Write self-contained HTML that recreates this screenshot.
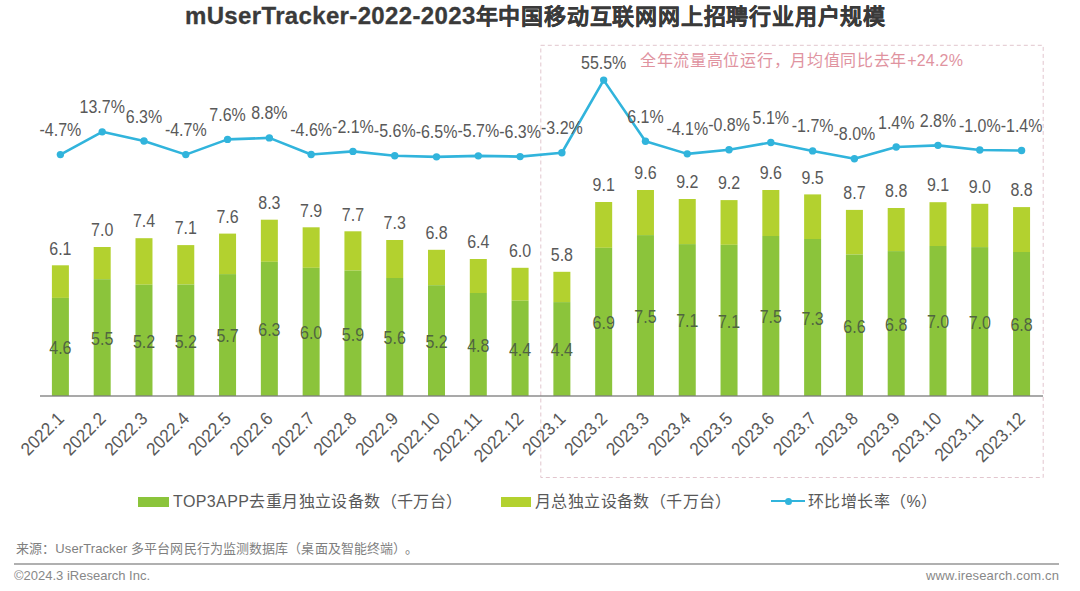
<!DOCTYPE html>
<html lang="zh-CN"><head><meta charset="utf-8"><style>
html,body{margin:0;padding:0;background:#fff;width:1080px;height:591px;overflow:hidden;}
body{position:relative;font-family:"Liberation Sans",sans-serif;}
svg{position:absolute;left:0;top:0;}
.lbl{font-size:16px;fill:#595959;text-anchor:middle;}
.ilbl{font-size:16px;fill:#506440;text-anchor:middle;}
.xl{font-size:17px;fill:#595959;text-anchor:end;}
.t{position:absolute;white-space:nowrap;}
</style></head><body>
<svg width="1080" height="591" viewBox="0 0 1080 591">
<rect x="540.8" y="45.3" width="502.4" height="432.2" fill="none" stroke="#e2c6ce" stroke-width="1" stroke-dasharray="4 3"/>
<rect x="51.90" y="265.30" width="17" height="32.60" fill="#b3d12f"/>
<rect x="51.90" y="297.90" width="17" height="97.60" fill="#8bc43b"/>
<rect x="93.69" y="247.00" width="17" height="32.20" fill="#b3d12f"/>
<rect x="93.69" y="279.20" width="17" height="116.30" fill="#8bc43b"/>
<rect x="135.48" y="238.20" width="17" height="46.50" fill="#b3d12f"/>
<rect x="135.48" y="284.70" width="17" height="110.80" fill="#8bc43b"/>
<rect x="177.27" y="245.10" width="17" height="39.40" fill="#b3d12f"/>
<rect x="177.27" y="284.50" width="17" height="111.00" fill="#8bc43b"/>
<rect x="219.06" y="233.60" width="17" height="40.50" fill="#b3d12f"/>
<rect x="219.06" y="274.10" width="17" height="121.40" fill="#8bc43b"/>
<rect x="260.85" y="219.70" width="17" height="42.10" fill="#b3d12f"/>
<rect x="260.85" y="261.80" width="17" height="133.70" fill="#8bc43b"/>
<rect x="302.64" y="227.30" width="17" height="40.50" fill="#b3d12f"/>
<rect x="302.64" y="267.80" width="17" height="127.70" fill="#8bc43b"/>
<rect x="344.43" y="231.30" width="17" height="39.30" fill="#b3d12f"/>
<rect x="344.43" y="270.60" width="17" height="124.90" fill="#8bc43b"/>
<rect x="386.22" y="240.00" width="17" height="38.00" fill="#b3d12f"/>
<rect x="386.22" y="278.00" width="17" height="117.50" fill="#8bc43b"/>
<rect x="428.01" y="249.80" width="17" height="35.40" fill="#b3d12f"/>
<rect x="428.01" y="285.20" width="17" height="110.30" fill="#8bc43b"/>
<rect x="469.80" y="259.00" width="17" height="34.00" fill="#b3d12f"/>
<rect x="469.80" y="293.00" width="17" height="102.50" fill="#8bc43b"/>
<rect x="511.59" y="267.80" width="17" height="32.90" fill="#b3d12f"/>
<rect x="511.59" y="300.70" width="17" height="94.80" fill="#8bc43b"/>
<rect x="553.38" y="271.80" width="17" height="30.30" fill="#b3d12f"/>
<rect x="553.38" y="302.10" width="17" height="93.40" fill="#8bc43b"/>
<rect x="595.17" y="202.00" width="17" height="45.80" fill="#b3d12f"/>
<rect x="595.17" y="247.80" width="17" height="147.70" fill="#8bc43b"/>
<rect x="636.96" y="190.00" width="17" height="45.10" fill="#b3d12f"/>
<rect x="636.96" y="235.10" width="17" height="160.40" fill="#8bc43b"/>
<rect x="678.75" y="199.00" width="17" height="45.10" fill="#b3d12f"/>
<rect x="678.75" y="244.10" width="17" height="151.40" fill="#8bc43b"/>
<rect x="720.54" y="200.10" width="17" height="44.70" fill="#b3d12f"/>
<rect x="720.54" y="244.80" width="17" height="150.70" fill="#8bc43b"/>
<rect x="762.33" y="190.00" width="17" height="46.00" fill="#b3d12f"/>
<rect x="762.33" y="236.00" width="17" height="159.50" fill="#8bc43b"/>
<rect x="804.12" y="194.40" width="17" height="44.60" fill="#b3d12f"/>
<rect x="804.12" y="239.00" width="17" height="156.50" fill="#8bc43b"/>
<rect x="845.91" y="209.90" width="17" height="44.60" fill="#b3d12f"/>
<rect x="845.91" y="254.50" width="17" height="141.00" fill="#8bc43b"/>
<rect x="887.70" y="208.00" width="17" height="43.10" fill="#b3d12f"/>
<rect x="887.70" y="251.10" width="17" height="144.40" fill="#8bc43b"/>
<rect x="929.49" y="202.20" width="17" height="43.80" fill="#b3d12f"/>
<rect x="929.49" y="246.00" width="17" height="149.50" fill="#8bc43b"/>
<rect x="971.28" y="203.80" width="17" height="43.30" fill="#b3d12f"/>
<rect x="971.28" y="247.10" width="17" height="148.40" fill="#8bc43b"/>
<rect x="1013.07" y="207.10" width="17" height="44.90" fill="#b3d12f"/>
<rect x="1013.07" y="252.00" width="17" height="143.50" fill="#8bc43b"/>
<line x1="40" y1="396.0" x2="1043" y2="396.0" stroke="#000" stroke-opacity="0.45" stroke-width="1.4"/>
<text transform="translate(60.40 254.50) scale(1 1.1)" class="lbl">6.1</text>
<text transform="translate(60.40 354.20) scale(1 1.1)" class="ilbl">4.6</text>
<text transform="translate(102.19 236.20) scale(1 1.1)" class="lbl">7.0</text>
<text transform="translate(102.19 344.85) scale(1 1.1)" class="ilbl">5.5</text>
<text transform="translate(143.98 227.40) scale(1 1.1)" class="lbl">7.4</text>
<text transform="translate(143.98 347.60) scale(1 1.1)" class="ilbl">5.2</text>
<text transform="translate(185.77 234.30) scale(1 1.1)" class="lbl">7.1</text>
<text transform="translate(185.77 347.50) scale(1 1.1)" class="ilbl">5.2</text>
<text transform="translate(227.56 222.80) scale(1 1.1)" class="lbl">7.6</text>
<text transform="translate(227.56 342.30) scale(1 1.1)" class="ilbl">5.7</text>
<text transform="translate(269.35 208.90) scale(1 1.1)" class="lbl">8.3</text>
<text transform="translate(269.35 336.15) scale(1 1.1)" class="ilbl">6.3</text>
<text transform="translate(311.14 216.50) scale(1 1.1)" class="lbl">7.9</text>
<text transform="translate(311.14 339.15) scale(1 1.1)" class="ilbl">6.0</text>
<text transform="translate(352.93 220.50) scale(1 1.1)" class="lbl">7.7</text>
<text transform="translate(352.93 340.55) scale(1 1.1)" class="ilbl">5.9</text>
<text transform="translate(394.72 229.20) scale(1 1.1)" class="lbl">7.3</text>
<text transform="translate(394.72 344.25) scale(1 1.1)" class="ilbl">5.6</text>
<text transform="translate(436.51 239.00) scale(1 1.1)" class="lbl">6.8</text>
<text transform="translate(436.51 347.85) scale(1 1.1)" class="ilbl">5.2</text>
<text transform="translate(478.30 248.20) scale(1 1.1)" class="lbl">6.4</text>
<text transform="translate(478.30 351.75) scale(1 1.1)" class="ilbl">4.8</text>
<text transform="translate(520.09 257.00) scale(1 1.1)" class="lbl">6.0</text>
<text transform="translate(520.09 355.60) scale(1 1.1)" class="ilbl">4.4</text>
<text transform="translate(561.88 261.00) scale(1 1.1)" class="lbl">5.8</text>
<text transform="translate(561.88 356.30) scale(1 1.1)" class="ilbl">4.4</text>
<text transform="translate(603.67 191.20) scale(1 1.1)" class="lbl">9.1</text>
<text transform="translate(603.67 329.15) scale(1 1.1)" class="ilbl">6.9</text>
<text transform="translate(645.46 179.20) scale(1 1.1)" class="lbl">9.6</text>
<text transform="translate(645.46 322.80) scale(1 1.1)" class="ilbl">7.5</text>
<text transform="translate(687.25 188.20) scale(1 1.1)" class="lbl">9.2</text>
<text transform="translate(687.25 327.30) scale(1 1.1)" class="ilbl">7.1</text>
<text transform="translate(729.04 189.30) scale(1 1.1)" class="lbl">9.2</text>
<text transform="translate(729.04 327.65) scale(1 1.1)" class="ilbl">7.1</text>
<text transform="translate(770.83 179.20) scale(1 1.1)" class="lbl">9.6</text>
<text transform="translate(770.83 323.25) scale(1 1.1)" class="ilbl">7.5</text>
<text transform="translate(812.62 183.60) scale(1 1.1)" class="lbl">9.5</text>
<text transform="translate(812.62 324.75) scale(1 1.1)" class="ilbl">7.3</text>
<text transform="translate(854.41 199.10) scale(1 1.1)" class="lbl">8.7</text>
<text transform="translate(854.41 332.50) scale(1 1.1)" class="ilbl">6.6</text>
<text transform="translate(896.20 197.20) scale(1 1.1)" class="lbl">8.8</text>
<text transform="translate(896.20 330.80) scale(1 1.1)" class="ilbl">6.8</text>
<text transform="translate(937.99 191.40) scale(1 1.1)" class="lbl">9.1</text>
<text transform="translate(937.99 328.25) scale(1 1.1)" class="ilbl">7.0</text>
<text transform="translate(979.78 193.00) scale(1 1.1)" class="lbl">9.0</text>
<text transform="translate(979.78 328.80) scale(1 1.1)" class="ilbl">7.0</text>
<text transform="translate(1021.57 196.30) scale(1 1.1)" class="lbl">8.8</text>
<text transform="translate(1021.57 331.25) scale(1 1.1)" class="ilbl">6.8</text>
<polyline points="60.40,154.62 102.19,131.85 143.98,141.00 185.77,154.62 227.56,139.40 269.35,137.91 311.14,154.49 352.93,151.40 394.72,155.73 436.51,156.84 478.30,155.85 520.09,156.60 561.88,152.76 603.67,80.12 645.46,141.25 687.25,153.87 729.04,149.79 770.83,142.49 812.62,150.90 854.41,158.70 896.20,147.07 937.99,145.34 979.78,150.04 1021.57,150.53" fill="none" stroke="#31b4dc" stroke-width="2.6" stroke-linejoin="round"/>
<circle cx="60.40" cy="154.62" r="3.7" fill="#31b4dc"/>
<circle cx="102.19" cy="131.85" r="3.7" fill="#31b4dc"/>
<circle cx="143.98" cy="141.00" r="3.7" fill="#31b4dc"/>
<circle cx="185.77" cy="154.62" r="3.7" fill="#31b4dc"/>
<circle cx="227.56" cy="139.40" r="3.7" fill="#31b4dc"/>
<circle cx="269.35" cy="137.91" r="3.7" fill="#31b4dc"/>
<circle cx="311.14" cy="154.49" r="3.7" fill="#31b4dc"/>
<circle cx="352.93" cy="151.40" r="3.7" fill="#31b4dc"/>
<circle cx="394.72" cy="155.73" r="3.7" fill="#31b4dc"/>
<circle cx="436.51" cy="156.84" r="3.7" fill="#31b4dc"/>
<circle cx="478.30" cy="155.85" r="3.7" fill="#31b4dc"/>
<circle cx="520.09" cy="156.60" r="3.7" fill="#31b4dc"/>
<circle cx="561.88" cy="152.76" r="3.7" fill="#31b4dc"/>
<circle cx="603.67" cy="80.12" r="3.7" fill="#31b4dc"/>
<circle cx="645.46" cy="141.25" r="3.7" fill="#31b4dc"/>
<circle cx="687.25" cy="153.87" r="3.7" fill="#31b4dc"/>
<circle cx="729.04" cy="149.79" r="3.7" fill="#31b4dc"/>
<circle cx="770.83" cy="142.49" r="3.7" fill="#31b4dc"/>
<circle cx="812.62" cy="150.90" r="3.7" fill="#31b4dc"/>
<circle cx="854.41" cy="158.70" r="3.7" fill="#31b4dc"/>
<circle cx="896.20" cy="147.07" r="3.7" fill="#31b4dc"/>
<circle cx="937.99" cy="145.34" r="3.7" fill="#31b4dc"/>
<circle cx="979.78" cy="150.04" r="3.7" fill="#31b4dc"/>
<circle cx="1021.57" cy="150.53" r="3.7" fill="#31b4dc"/>
<text transform="translate(60.40 136.12) scale(1 1.1)" class="lbl">-4.7%</text>
<text transform="translate(102.19 113.35) scale(1 1.1)" class="lbl">13.7%</text>
<text transform="translate(143.98 122.50) scale(1 1.1)" class="lbl">6.3%</text>
<text transform="translate(185.77 136.12) scale(1 1.1)" class="lbl">-4.7%</text>
<text transform="translate(227.56 120.90) scale(1 1.1)" class="lbl">7.6%</text>
<text transform="translate(269.35 119.41) scale(1 1.1)" class="lbl">8.8%</text>
<text transform="translate(311.14 135.99) scale(1 1.1)" class="lbl">-4.6%</text>
<text transform="translate(352.93 132.90) scale(1 1.1)" class="lbl">-2.1%</text>
<text transform="translate(394.72 137.23) scale(1 1.1)" class="lbl">-5.6%</text>
<text transform="translate(436.51 138.34) scale(1 1.1)" class="lbl">-6.5%</text>
<text transform="translate(478.30 137.35) scale(1 1.1)" class="lbl">-5.7%</text>
<text transform="translate(520.09 138.10) scale(1 1.1)" class="lbl">-6.3%</text>
<text transform="translate(561.88 134.26) scale(1 1.1)" class="lbl">-3.2%</text>
<text transform="translate(603.67 69.00) scale(1 1.1)" class="lbl">55.5%</text>
<text transform="translate(645.46 122.75) scale(1 1.1)" class="lbl">6.1%</text>
<text transform="translate(687.25 135.37) scale(1 1.1)" class="lbl">-4.1%</text>
<text transform="translate(729.04 131.29) scale(1 1.1)" class="lbl">-0.8%</text>
<text transform="translate(770.83 123.99) scale(1 1.1)" class="lbl">5.1%</text>
<text transform="translate(812.62 132.40) scale(1 1.1)" class="lbl">-1.7%</text>
<text transform="translate(854.41 140.20) scale(1 1.1)" class="lbl">-8.0%</text>
<text transform="translate(896.20 128.57) scale(1 1.1)" class="lbl">1.4%</text>
<text transform="translate(937.99 126.84) scale(1 1.1)" class="lbl">2.8%</text>
<text transform="translate(979.78 131.54) scale(1 1.1)" class="lbl">-1.0%</text>
<text transform="translate(1021.57 132.03) scale(1 1.1)" class="lbl">-1.4%</text>
<text class="xl" transform="translate(65.10 419.8) rotate(-45) scale(1 1.07)">2022.1</text>
<text class="xl" transform="translate(106.89 419.8) rotate(-45) scale(1 1.07)">2022.2</text>
<text class="xl" transform="translate(148.68 419.8) rotate(-45) scale(1 1.07)">2022.3</text>
<text class="xl" transform="translate(190.47 419.8) rotate(-45) scale(1 1.07)">2022.4</text>
<text class="xl" transform="translate(232.26 419.8) rotate(-45) scale(1 1.07)">2022.5</text>
<text class="xl" transform="translate(274.05 419.8) rotate(-45) scale(1 1.07)">2022.6</text>
<text class="xl" transform="translate(315.84 419.8) rotate(-45) scale(1 1.07)">2022.7</text>
<text class="xl" transform="translate(357.63 419.8) rotate(-45) scale(1 1.07)">2022.8</text>
<text class="xl" transform="translate(399.42 419.8) rotate(-45) scale(1 1.07)">2022.9</text>
<text class="xl" transform="translate(441.21 419.8) rotate(-45) scale(1 1.07)">2022.10</text>
<text class="xl" transform="translate(483.00 419.8) rotate(-45) scale(1 1.07)">2022.11</text>
<text class="xl" transform="translate(524.79 419.8) rotate(-45) scale(1 1.07)">2022.12</text>
<text class="xl" transform="translate(566.58 419.8) rotate(-45) scale(1 1.07)">2023.1</text>
<text class="xl" transform="translate(608.37 419.8) rotate(-45) scale(1 1.07)">2023.2</text>
<text class="xl" transform="translate(650.16 419.8) rotate(-45) scale(1 1.07)">2023.3</text>
<text class="xl" transform="translate(691.95 419.8) rotate(-45) scale(1 1.07)">2023.4</text>
<text class="xl" transform="translate(733.74 419.8) rotate(-45) scale(1 1.07)">2023.5</text>
<text class="xl" transform="translate(775.53 419.8) rotate(-45) scale(1 1.07)">2023.6</text>
<text class="xl" transform="translate(817.32 419.8) rotate(-45) scale(1 1.07)">2023.7</text>
<text class="xl" transform="translate(859.11 419.8) rotate(-45) scale(1 1.07)">2023.8</text>
<text class="xl" transform="translate(900.90 419.8) rotate(-45) scale(1 1.07)">2023.9</text>
<text class="xl" transform="translate(942.69 419.8) rotate(-45) scale(1 1.07)">2023.10</text>
<text class="xl" transform="translate(984.48 419.8) rotate(-45) scale(1 1.07)">2023.11</text>
<text class="xl" transform="translate(1026.27 419.8) rotate(-45) scale(1 1.07)">2023.12</text>
</svg>
<div class="t" id="title" style="left:185px;top:1px;-webkit-text-stroke:0.3px #3a3a3a;height:30px;line-height:30px;font-size:22px;letter-spacing:0.8px;font-weight:bold;color:#3a3a3a;"><span style="font-size:24px;letter-spacing:0.35px">mUserTracker-2022-2023</span>年中国移动互联网网上招聘行业用户规模</div>
<div class="t" id="note" style="left:640px;top:46.5px;font-size:16px;letter-spacing:0.7px;color:#e0939f;">全年流量高位运行，月均值同比去年<span style="letter-spacing:0.2px">+24.2%</span></div>
<div class="t" style="left:138px;top:497px;width:31px;height:10px;background:#8bc43b;"></div>
<div class="t" id="lg1" style="left:173px;top:488px;font-size:16px;letter-spacing:0.4px;color:#595959;">TOP3APP去重月独立设备数（千万台）</div>
<div class="t" style="left:501px;top:497px;width:30px;height:10px;background:#b3d12f;"></div>
<div class="t" id="lg2" style="left:535px;top:488px;font-size:16px;letter-spacing:0.4px;color:#595959;">月总独立设备数（千万台）</div>
<div class="t" style="left:771px;top:499.5px;width:34px;height:2.5px;background:#31b4dc;"></div>
<div class="t" style="left:784.5px;top:497.5px;width:7px;height:7px;border-radius:50%;background:#31b4dc;"></div>
<div class="t" id="lg3" style="left:808px;top:488px;font-size:16px;letter-spacing:0.4px;color:#595959;">环比增长率（%）</div>
<div class="t" id="src" style="left:16px;top:537.5px;font-size:13px;letter-spacing:0.1px;color:#7f7f7f;">来源：UserTracker 多平台网民行为监测数据库（桌面及智能终端）<span style="margin-left:5px">。</span></div>
<div class="t" style="left:14px;top:563px;width:1045px;height:1.5px;background:#b0b0b0;"></div>
<div class="t" id="cp" style="left:14px;top:568px;font-size:13px;color:#888;">©2024.3 iResearch Inc.</div>
<div class="t" id="url" style="left:926px;top:568px;font-size:13px;letter-spacing:0.15px;color:#888;">www.iresearch.com.cn</div>
</body></html>
